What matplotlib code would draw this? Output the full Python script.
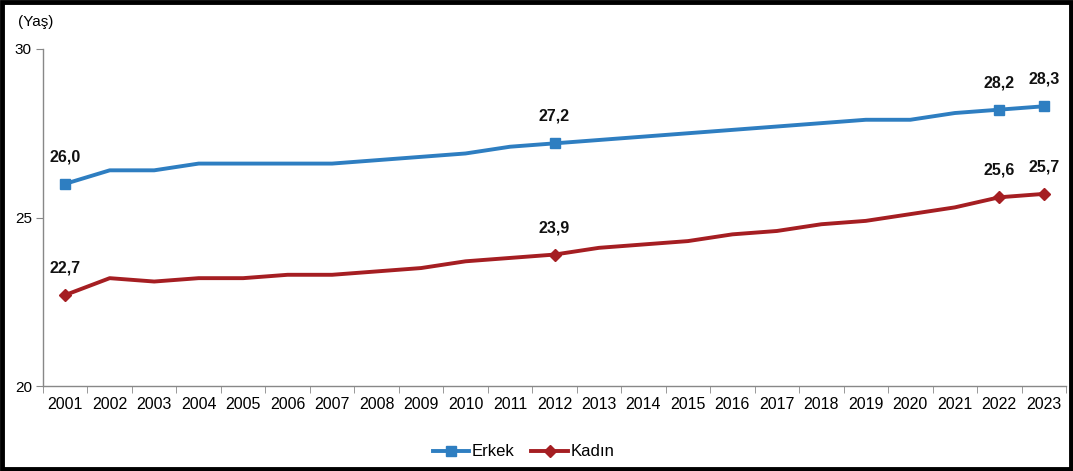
import matplotlib
matplotlib.use("Agg")
import matplotlib.pyplot as plt
from matplotlib.patches import Rectangle
import numpy as np

years = [str(y) for y in range(2001, 2024)]
erkek = [26.0, 26.4, 26.4, 26.6, 26.6, 26.6, 26.6, 26.7, 26.8, 26.9, 27.1, 27.2,
         27.3, 27.4, 27.5, 27.6, 27.7, 27.8, 27.9, 27.9, 28.1, 28.2, 28.3]
kadin = [22.7, 23.2, 23.1, 23.2, 23.2, 23.3, 23.3, 23.4, 23.5, 23.7, 23.8, 23.9,
         24.1, 24.2, 24.3, 24.5, 24.6, 24.8, 24.9, 25.1, 25.3, 25.6, 25.7]
label_years = ["2001", "2012", "2022", "2023"]
yticks = [20, 25, 30]

blue = "#2E7EC1"
red = "#A51E22"
plt.rcParams['font.family'] = ["Liberation Sans", "DejaVu Sans"]

fig = plt.figure(figsize=(10.73, 4.71), dpi=100)
ax = fig.add_axes([43/1073, 1-386/471, (1066-43)/1073, (386-49)/471])

x = np.arange(len(years))
ax.plot(x, erkek, color=blue, lw=2.8, marker="s", markersize=7,
        markevery=[years.index(y) for y in label_years], label="Erkek")
ax.plot(x, kadin, color=red, lw=2.8, marker="D", markersize=6.5,
        markevery=[years.index(y) for y in label_years], label="Kadın")

for y in label_years:
    i = years.index(y)
    for vals in (erkek, kadin):
        ax.annotate(f"{vals[i]:.1f}".replace(".", ","), (i, vals[i]),
                    xytext=(0, 14), textcoords="offset points", ha="center",
                    va="bottom", fontsize=11.5, fontweight="bold",
                    color="#111111")

ax.set_xlim(-0.5, len(years) - 0.5)
ax.set_ylim(20, 30)
ax.set_yticks(yticks)
ax.set_yticklabels([str(v) for v in yticks], fontsize=11)
ax.set_xticks(x)
ax.set_xticklabels(years, fontsize=11.5)
ax.set_xticks(np.arange(-0.5, len(years), 1.0), minor=True)
ax.tick_params(axis="x", which="major", length=0, pad=8)
ax.tick_params(axis="x", which="minor", length=5, color="#888888")
ax.tick_params(axis="y", length=5, color="#888888", pad=3)
for s in ("top", "right"):
    ax.spines[s].set_visible(False)
for s in ("left", "bottom"):
    ax.spines[s].set_color("#888888")
    ax.spines[s].set_linewidth(1.0)

fig.text(18/1073, 1-22/471, "(Yaş)", fontsize=11, va="center", ha="left")

fig.legend(loc="center", bbox_to_anchor=(0.488, 1-452/471), ncol=2, frameon=False,
           handlelength=2.2, columnspacing=1.0, handletextpad=0.15,
           prop={"size": 12})

fig.patches.append(Rectangle((0.002, 0.004), 0.996, 0.992, transform=fig.transFigure,
                             fill=False, edgecolor="black", linewidth=3.5))

fig.savefig("out.png", dpi=100)
